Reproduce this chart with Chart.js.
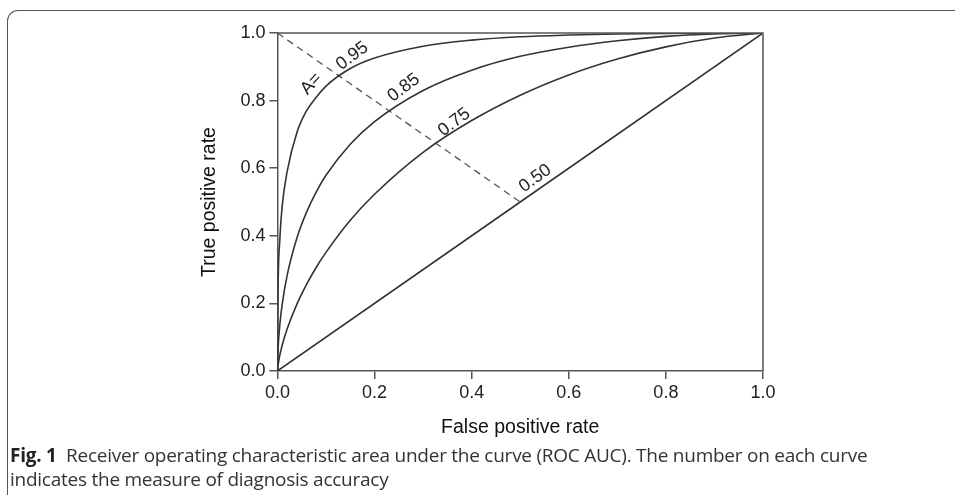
<!DOCTYPE html>
<html lang="en">
  <head>
    <meta charset="UTF-8" />
    <title>ROC AUC</title>
    <script src="https://cdn.jsdelivr.net/npm/chart.js"></script>
    <style>
      html, body {
        margin: 0;
        padding: 0;
        background: #fff;
      }
      body {
        width: 955px;
        height: 495px;
        overflow: hidden;
        position: relative;
      }
      #frame {
        position: absolute;
        left: 7px;
        top: 10px;
        width: 960px;
        height: 500px;
        border-left: 1.5px solid #555;
        border-top: 1.5px solid #555;
        border-top-left-radius: 11px;
      }
      #wrapper {
        position: absolute;
        left: 0;
        top: 0;
        width: 955px;
        height: 447px;
      }
      #caption {
        position: absolute;
        left: 10px;
        top: 443px;
        font-family: "Open Sans", sans-serif;
        font-size: 19px;
        line-height: 24px;
        color: #333;
        white-space: nowrap;
        letter-spacing: -0.25px;
      }
      #caption b {
        color: #222;
      }
    </style>
  </head>
  <body>
    <div id="frame"></div>
    <div id="wrapper">
      <canvas id="rocChart"></canvas>
    </div>
    <div id="caption">
      <b>Fig. 1</b>&nbsp; Receiver operating characteristic area under the curve (ROC AUC). The number on each curve<br />indicates the measure of diagnosis accuracy
    </div>

    <script>
      // values
      var fpr = [0, 0.001, 0.005, 0.01, 0.02, 0.04, 0.06, 0.08, 0.1, 0.15, 0.2, 0.3, 0.4, 0.5, 0.6, 0.7, 0.8, 0.9, 1];
      var tpr95 = [0, 0.21, 0.39, 0.49, 0.59, 0.705, 0.77, 0.81, 0.843, 0.895, 0.926, 0.961, 0.979, 0.989, 0.994, 0.997, 0.999, 1, 1];
      var tpr85 = [0, 0.054, 0.137, 0.199, 0.283, 0.393, 0.47, 0.53, 0.579, 0.671, 0.738, 0.83, 0.89, 0.931, 0.958, 0.977, 0.99, 0.997, 1];
      var tpr75 = [0, 0.014, 0.047, 0.077, 0.124, 0.197, 0.256, 0.307, 0.351, 0.446, 0.523, 0.647, 0.741, 0.816, 0.876, 0.923, 0.959, 0.985, 1];
      var chanceX = [0, 1];
      var chanceY = [0, 1];
      var dashX = [0, 0.5];
      var dashY = [1, 0.5];

      var xTickLabels = ["0.0", "0.2", "0.4", "0.6", "0.8", "1.0"];
      var yTickLabels = ["0.0", "0.2", "0.4", "0.6", "0.8", "1.0"];

      var curveTags = ["A=", "0.95", "0.85", "0.75", "0.50"];

      function pts(xs, ys) {
        var out = [];
        for (var i = 0; i < xs.length; i++) out.push({ x: xs[i], y: ys[i] });
        return out;
      }

      var lineColor = "#333";
      function curve(xs, ys) {
        return {
          data: pts(xs, ys),
          showLine: true,
          borderColor: lineColor,
          borderWidth: 1.6,
          pointRadius: 0,
          cubicInterpolationMode: "monotone",
          fill: false,
        };
      }

      // where each tag sits (data units) and its slope in degrees
      var tagSpots = [
        [0.07, 0.85, -48],
        [0.154, 0.932, -37],
        [0.26, 0.838, -37],
        [0.364, 0.736, -37],
        [0.531, 0.57, -36],
      ];

      var fontFam = "'Liberation Sans', Arial, sans-serif";

      var tagsPlugin = {
        id: "tags",
        afterDatasetsDraw: function (chart) {
          var c = chart.ctx;
          var xs = chart.scales.x;
          var ys = chart.scales.y;
          var a = chart.chartArea;
          // top and right sides of the box
          c.save();
          c.strokeStyle = "#555";
          c.lineWidth = 1.5;
          c.beginPath();
          c.moveTo(a.left, a.top);
          c.lineTo(a.right, a.top);
          c.lineTo(a.right, a.bottom);
          c.stroke();

          c.fillStyle = "#222";
          c.font = "18px " + fontFam;
          c.textAlign = "center";
          c.textBaseline = "middle";
          for (var i = 0; i < curveTags.length; i++) {
            var s = tagSpots[i];
            c.save();
            c.translate(xs.getPixelForValue(s[0]), ys.getPixelForValue(s[1]));
            c.rotate((s[2] * Math.PI) / 180);
            c.fillText(curveTags[i], 0, 0);
            c.restore();
          }
          c.restore();
        },
      };

      var ctx = document.getElementById("rocChart").getContext("2d");
      var chart = new Chart(ctx, {
        type: "scatter",
        data: {
          datasets: [
            curve(fpr, tpr95),
            curve(fpr, tpr85),
            curve(fpr, tpr75),
            curve(chanceX, chanceY),
            {
              data: pts(dashX, dashY),
              showLine: true,
              borderColor: "#555",
              borderWidth: 1.3,
              borderDash: [7, 5],
              pointRadius: 0,
            },
          ],
        },
        options: {
          responsive: true,
          maintainAspectRatio: false,
          animation: false,
          layout: {
            padding: { left: 198, right: 192, top: 33, bottom: 4 },
          },
          plugins: {
            legend: { display: false },
            tooltip: { enabled: false },
          },
          scales: {
            x: {
              type: "linear",
              min: 0,
              max: 1,
              ticks: {
                stepSize: 0.2,
                padding: 3,
                color: "#222",
                font: { family: fontFam, size: 18 },
                callback: function (v, i) {
                  return xTickLabels[i];
                },
              },
              grid: {
                display: true,
                drawOnChartArea: false,
                drawTicks: true,
                tickLength: 8,
                color: "#555",
                lineWidth: 1.5,
              },
              border: { display: true, color: "#555", width: 1.5 },
              title: {
                display: true,
                text: "False positive rate",
                color: "#111",
                padding: { top: 9, bottom: 4 },
                font: { family: fontFam, size: 19.5 },
              },
            },
            y: {
              type: "linear",
              min: 0,
              max: 1,
              ticks: {
                stepSize: 0.2,
                padding: 4,
                color: "#222",
                font: { family: fontFam, size: 18 },
                callback: function (v, i) {
                  return yTickLabels[i];
                },
              },
              grid: {
                display: true,
                drawOnChartArea: false,
                drawTicks: true,
                tickLength: 8,
                color: "#555",
                lineWidth: 1.5,
              },
              border: { display: true, color: "#555", width: 1.5 },
              title: {
                display: true,
                text: "True positive rate",
                color: "#111",
                padding: { top: 0, bottom: 15 },
                font: { family: fontFam, size: 19.5 },
              },
            },
          },
        },
        plugins: [tagsPlugin],
      });
    </script>
  </body>
</html>
